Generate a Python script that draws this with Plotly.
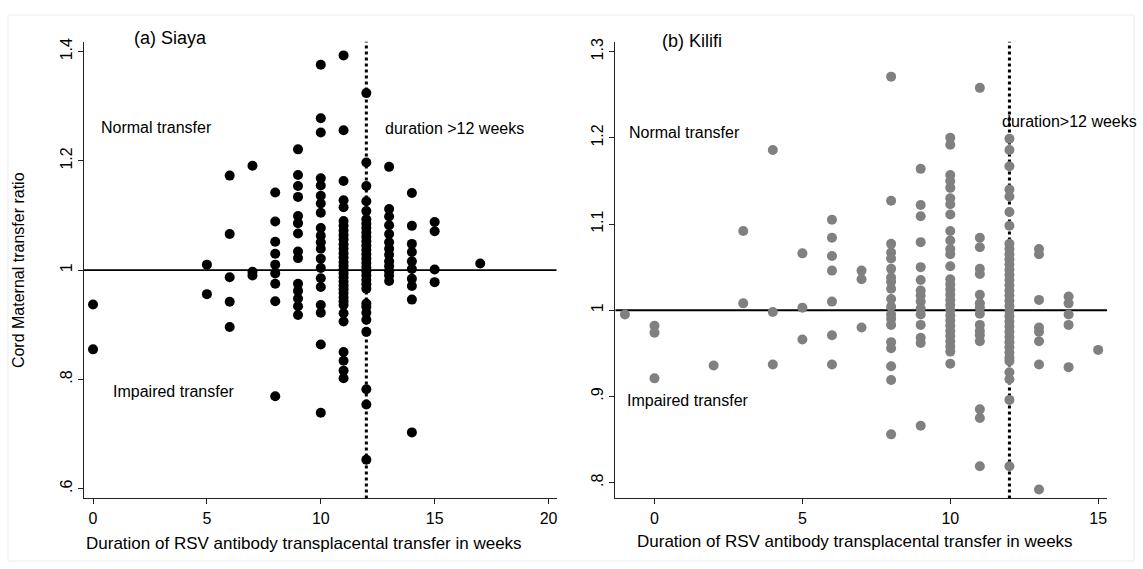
import plotly.graph_objects as go

W, H = 1143, 569

# ---------------- data ----------------
siaya_weeks = [0, 5, 6, 7, 8, 9, 10, 11, 12, 13, 14, 15, 17]
siaya_ratios = [
    [0.937, 0.855],
    [1.010, 0.956],
    [1.173, 1.066, 0.987, 0.942, 0.896],
    [1.191, 0.997, 0.990],
    [1.142, 1.089, 1.052, 1.030, 1.010, 0.994, 0.975, 0.943, 0.769],
    [1.221, 1.174, 1.154, 1.134, 1.099, 1.086, 1.067, 1.034, 1.022, 0.975, 0.962, 0.948, 0.934, 0.918],
    [1.376, 1.278, 1.252, 1.168, 1.155, 1.136, 1.122, 1.105, 1.077, 1.063, 1.051, 1.039, 1.021, 1.004,
     0.985, 0.969, 0.936, 0.922, 0.864, 0.739],
    [1.393, 1.256, 1.163, 1.128, 1.115, 1.090, 1.081, 1.072, 1.064, 1.056, 1.047, 1.039, 1.031, 1.023,
     1.015, 1.008, 1.001, 0.994, 0.987, 0.979, 0.972, 0.965, 0.958, 0.950, 0.943, 0.936, 0.921, 0.906,
     0.850, 0.834, 0.816, 0.802],
    [1.324, 1.197, 1.154, 1.126, 1.108, 1.093, 1.085, 1.077, 1.069, 1.061, 1.053, 1.045, 1.037, 1.029,
     1.021, 1.013, 1.005, 0.998, 0.990, 0.982, 0.974, 0.966, 0.939, 0.933, 0.922, 0.909, 0.887, 0.782,
     0.754, 0.653],
    [1.189, 1.112, 1.098, 1.082, 1.066, 1.051, 1.039, 1.028, 1.016, 1.007, 0.998, 0.990, 0.980],
    [1.141, 1.081, 1.048, 1.033, 1.016, 1.002, 0.984, 0.971, 0.946, 0.703],
    [1.088, 1.071, 1.001, 0.978],
    [1.012],
]

kilifi_weeks = [-1, 0, 2, 3, 4, 5, 6, 7, 8, 9, 10, 11, 12, 13, 14, 15]
kilifi_ratios = [
    [0.995],
    [0.982, 0.974, 0.921],
    [0.936],
    [1.092, 1.008],
    [1.186, 0.998, 0.937],
    [1.066, 1.003, 0.966],
    [1.105, 1.084, 1.063, 1.046, 1.010, 0.971, 0.937],
    [1.046, 1.036, 0.980],
    [1.271, 1.127, 1.077, 1.067, 1.060, 1.048, 1.038, 1.033, 1.025, 1.013, 1.004, 0.995, 0.990, 0.983,
     0.963, 0.956, 0.935, 0.919, 0.856],
    [1.164, 1.122, 1.109, 1.079, 1.050, 1.035, 1.023, 1.017, 1.010, 1.002, 0.995, 0.983, 0.968, 0.962,
     0.866],
    [1.200, 1.192, 1.157, 1.150, 1.142, 1.130, 1.123, 1.111, 1.092, 1.081, 1.071, 1.065, 1.051, 1.036,
     1.030, 1.024, 1.018, 1.012, 1.006, 1.000, 0.994, 0.988, 0.982, 0.976, 0.970, 0.964, 0.958, 0.952,
     0.938],
    [1.258, 1.084, 1.073, 1.048, 1.042, 1.018, 1.008, 1.003, 0.996, 0.983, 0.976, 0.971, 0.964, 0.885,
     0.875, 0.819],
    [1.199, 1.186, 1.167, 1.140, 1.132, 1.114, 1.098, 1.077, 1.071, 1.065, 1.059, 1.053, 1.047, 1.041,
     1.035, 1.029, 1.023, 1.017, 1.011, 1.005, 0.999, 0.993, 0.987, 0.981, 0.975, 0.969, 0.963, 0.957,
     0.951, 0.945, 0.941, 0.928, 0.920, 0.896, 0.819],
    [1.071, 1.065, 1.012, 0.980, 0.975, 0.964, 0.937, 0.792],
    [1.016, 1.008, 0.995, 0.983, 0.934],
    [0.954],
]

siaya_yticks = [0.6, 0.8, 1.0, 1.2, 1.4]
siaya_yticktext = [".6", ".8", "1", "1.2", "1.4"]
siaya_xticks = [0, 5, 10, 15, 20]
kilifi_yticks = [0.8, 0.9, 1.0, 1.1, 1.2, 1.3]
kilifi_yticktext = [".8", ".9", "1", "1.1", "1.2", "1.3"]
kilifi_xticks = [0, 5, 10, 15]

reference_ratio = 1.0
cutoff_week = 12

# ---------------- figure ----------------
def flatten(weeks, ratios):
    xs, ys = [], []
    for w, vals in zip(weeks, ratios):
        for v in vals:
            xs.append(w)
            ys.append(v)
    return xs, ys

sx, sy = flatten(siaya_weeks, siaya_ratios)
kx, ky = flatten(kilifi_weeks, kilifi_ratios)

FONT = "Liberation Sans, Arial, sans-serif"

fig = go.Figure()
fig.add_trace(go.Scatter(x=sx, y=sy, mode="markers", xaxis="x", yaxis="y",
                         marker=dict(color="black", size=10, line=dict(width=0)),
                         showlegend=False, hoverinfo="skip"))
fig.add_trace(go.Scatter(x=kx, y=ky, mode="markers", xaxis="x2", yaxis="y2",
                         marker=dict(color="#808080", size=10, line=dict(width=0)),
                         showlegend=False, hoverinfo="skip"))

def px_x(p):
    return p / W

def px_y(p):
    return 1 - p / H

ydom = [px_y(498), px_y(38)]
axis_common = dict(showgrid=False, zeroline=False, showline=True, linecolor="#222",
                   linewidth=1, ticks="outside", ticklen=5, tickcolor="#222", tickwidth=1,
                   tickfont=dict(family=FONT, size=16, color="black"))

fig.update_layout(
    width=W, height=H,
    margin=dict(l=0, r=0, t=0, b=0),
    paper_bgcolor="white", plot_bgcolor="white",
    xaxis=dict(domain=[px_x(84), px_x(557)], range=[-0.4, 20.35], tickmode="array",
               tickvals=siaya_xticks, anchor="y", ticklabelstandoff=0, **axis_common),
    yaxis=dict(domain=ydom, range=[0.582, 1.418], tickmode="array", tickvals=siaya_yticks,
               ticktext=siaya_yticktext, tickangle=-90, anchor="x", ticklabelstandoff=0,
               **axis_common),
    xaxis2=dict(domain=[px_x(616), px_x(1108)], range=[-1.32, 15.3], tickmode="array",
                tickvals=kilifi_xticks, anchor="y2", ticklabelstandoff=0, **axis_common),
    yaxis2=dict(domain=ydom, range=[0.7816, 1.3115], tickmode="array", tickvals=kilifi_yticks,
                ticktext=kilifi_yticktext, tickangle=-90, anchor="x2", ticklabelstandoff=0,
                **axis_common),
)

shapes = [
    # outer faint frame
    dict(type="rect", xref="paper", yref="paper", x0=px_x(8), x1=px_x(1135), y0=px_y(561),
         y1=px_y(11), line=dict(color="#ececec", width=1), layer="below"),
]
for xa, ya in (("x", "y"), ("x2", "y2")):
    shapes.append(dict(type="line", xref=f"{xa} domain", yref=ya, x0=0, x1=1,
                       y0=reference_ratio, y1=reference_ratio,
                       line=dict(color="black", width=1.8), layer="below"))
    shapes.append(dict(type="line", xref=xa, yref=f"{ya} domain", x0=cutoff_week, x1=cutoff_week,
                       y0=0, y1=1, line=dict(color="black", width=3, dash="dot"), layer="below"))
fig.update_layout(shapes=shapes)

def ann(text, x, y, size=16, xanchor="left", angle=0):
    return dict(text=text, xref="paper", yref="paper", x=px_x(x), y=px_y(y), showarrow=False,
                xanchor=xanchor, yanchor="middle", textangle=angle,
                font=dict(family=FONT, size=size, color="black"))

fig.update_layout(annotations=[
    ann("(a) Siaya", 171, 34, size=18, xanchor="center"),
    ann("Normal transfer", 99, 124),
    ann("Impaired transfer", 111, 390),
    ann("duration >12 weeks", 383, 125),
    ann("Cord Maternal transfer ratio", 18, 268, size=16, xanchor="center", angle=-90),
    ann("Duration of RSV antibody transplacental transfer in weeks", 304, 543, size=17,
        xanchor="center"),
    ann("(b) Kilifi", 693, 37, size=18, xanchor="center"),
    ann("Normal transfer", 628, 129),
    ann("Impaired transfer", 626, 399),
    ann("duration>12 weeks", 1001, 118),
    ann("Duration of RSV antibody transplacental transfer in weeks", 856, 541, size=17,
        xanchor="center"),
])

fig.write_html("out.html", config={"displayModeBar": False},
               post_script="document.body.style.margin='0';document.body.style.overflow='hidden';")
